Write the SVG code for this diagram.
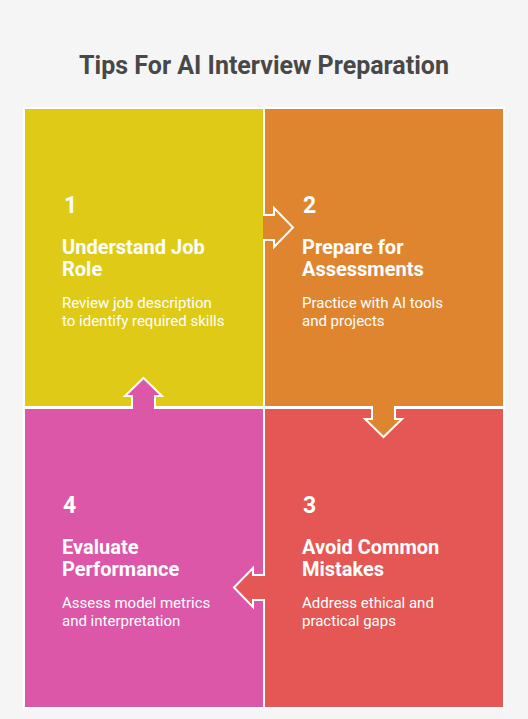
<svg xmlns="http://www.w3.org/2000/svg" width="528" height="719" viewBox="0 0 528 719">
<style>
.num{font-family:Roboto,"Liberation Sans",sans-serif;font-weight:700;font-size:23px;fill:#fff}
.ttl{font-family:Roboto,"Liberation Sans",sans-serif;font-weight:700;font-size:20px;fill:#fff}
.dsc{font-family:Roboto,"Liberation Sans",sans-serif;font-weight:400;font-size:15px;fill:#fff}
.arr{stroke:#fff;stroke-width:2;stroke-linejoin:miter}
</style>
<rect x="0" y="0" width="528" height="719" fill="#F5F5F5"/>
<text x="264" y="74" text-anchor="middle" font-family="Roboto,'Liberation Sans',sans-serif" font-weight="700" font-size="25" fill="#484848">Tips For AI Interview Preparation</text>
<rect x="23" y="107" width="482" height="602" fill="#fff"/>
<g id="node1">
<rect x="25" y="109" width="238" height="297" fill="#DFCA17"/>
<text class="num" x="64" y="213">1</text>
<text class="ttl" x="62" y="254">Understand Job</text>
<text class="ttl" x="62" y="276">Role</text>
<text class="dsc" x="62" y="308">Review job description</text>
<text class="dsc" x="62" y="326">to identify required skills</text>
</g>
<g id="node2">
<rect x="265" y="109" width="238" height="297" fill="#DF8530"/>
<text class="num" x="303" y="213">2</text>
<text class="ttl" x="302" y="254">Prepare for</text>
<text class="ttl" x="302" y="276">Assessments</text>
<text class="dsc" x="302" y="308">Practice with AI tools</text>
<text class="dsc" x="302" y="326">and projects</text>
</g>
<g id="node3">
<rect x="265" y="409" width="238" height="298" fill="#E55754"/>
<text class="num" x="303" y="513">3</text>
<text class="ttl" x="302" y="554">Avoid Common</text>
<text class="ttl" x="302" y="576">Mistakes</text>
<text class="dsc" x="302" y="608">Address ethical and</text>
<text class="dsc" x="302" y="626">practical gaps</text>
</g>
<g id="node4">
<rect x="25" y="409" width="238" height="298" fill="#DC57A8"/>
<text class="num" x="63" y="513">4</text>
<text class="ttl" x="62" y="554">Evaluate</text>
<text class="ttl" x="62" y="576">Performance</text>
<text class="dsc" x="62" y="608">Assess model metrics</text>
<text class="dsc" x="62" y="626">and interpretation</text>
</g>
<g id="connectors">
<path class="arr" fill="#DF8530" d="M263,215 H274 V208 L293,227.5 L274,247 V240 H263"/>
<path class="arr" fill="#DF8530" d="M372,406 V419 H365 L383.5,437 L402,419 H395 V406"/>
<path class="arr" fill="#E55754" d="M265,575 H253 V568 L234,587.5 L253,607 V600 H265"/>
<path class="arr" fill="#DC57A8" d="M132,409 V396 H125 L143.5,378 L162,396 H155 V409"/>
</g>
</svg>
